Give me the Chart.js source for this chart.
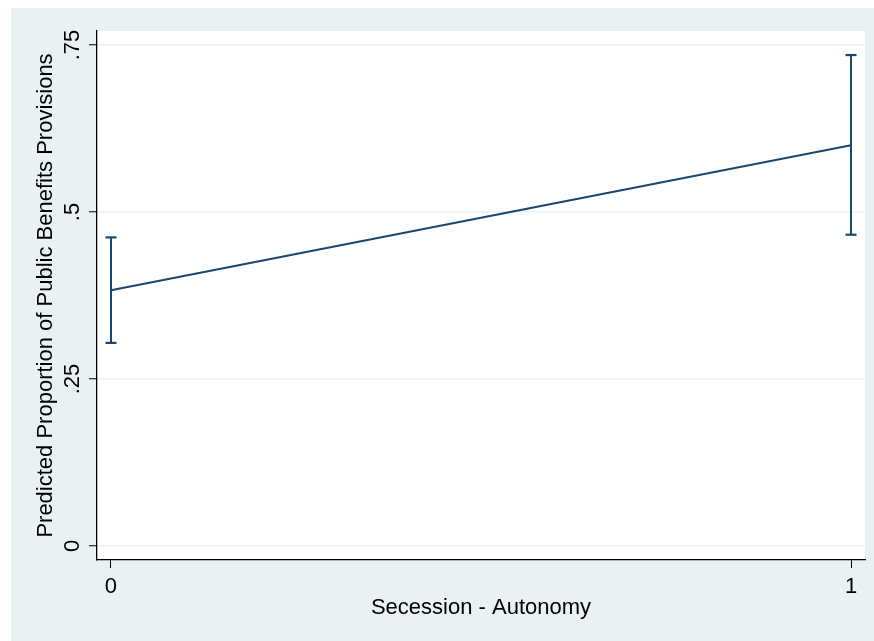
<!DOCTYPE html>
<html>
<head>
<meta charset="utf-8">
<script src="https://cdn.jsdelivr.net/npm/chart.js@4.4.1/dist/chart.umd.min.js"></script>
<style>
  html, body { margin: 0; padding: 0; background: #ffffff; }
  #wrap { width: 874px; height: 641px; }
</style>
</head>
<body>
<div id="wrap"><canvas id="c" width="874" height="641"></canvas></div>
<script>
// ---- data ----
const xValues = [0, 1];
const predicted = [0.383, 0.600];
const ciLower = [0.304, 0.466];
const ciUpper = [0.462, 0.735];
const xTickValues = [0, 1];
const xTickLabels = ['0', '1'];
const yTickValues = [0, 0.25, 0.5, 0.75];
const yTickLabels = ['0', '.25', '.5', '.75'];
const xTitle = 'Secession - Autonomy';
const yTitle = 'Predicted Proportion of Public Benefits Provisions';

const NAVY = '#1a476f';
const REGION = '#eaf1f3';
const FONT = '"Liberation Sans", Arial, Helvetica, sans-serif';

const lineData = xValues.map((x, i) => ({ x: x, y: predicted[i] }));
const errorSets = xValues.map((x, i) => ({
  type: 'line',
  data: [{ x: x, y: ciLower[i] }, { x: x, y: ciUpper[i] }],
  borderColor: NAVY,
  borderWidth: 2,
  pointStyle: 'line',
  pointRadius: 5.5,
  pointBorderWidth: 2.2,
  pointBorderColor: NAVY,
  pointBackgroundColor: NAVY,
  pointHoverRadius: 5.5,
  fill: false
}));

const bgPlugin = {
  id: 'bg',
  beforeDraw(chart) {
    const ctx = chart.ctx, a = chart.chartArea;
    ctx.save();
    ctx.fillStyle = '#ffffff';
    ctx.fillRect(0, 0, chart.width, chart.height);
    ctx.fillStyle = REGION;
    ctx.fillRect(11, 8, chart.width - 11, chart.height - 8);
    ctx.fillStyle = '#ffffff';
    ctx.fillRect(a.left, a.top, a.right - a.left, a.bottom - a.top);
    ctx.restore();
  }
};

new Chart(document.getElementById('c'), {
  type: 'line',
  data: {
    datasets: [
      {
        data: lineData,
        borderColor: NAVY,
        borderWidth: 2,
        pointRadius: 0,
        pointHoverRadius: 0,
        fill: false
      },
      ...errorSets
    ]
  },
  options: {
    responsive: false,
    animation: false,
    devicePixelRatio: 1,
    layout: { padding: { top: 31, right: 9, left: 0, bottom: 0 } },
    plugins: { legend: { display: false }, tooltip: { enabled: false } },
    scales: {
      x: {
        type: 'linear',
        min: -0.0189,
        max: 1.0189,
        afterBuildTicks(scale) { scale.ticks = xTickValues.map(v => ({ value: v })); },
        afterFit(scale) { scale.height = 81; },
        grid: { drawOnChartArea: false, drawTicks: true, tickLength: 8, tickColor: '#000', tickWidth: 1 },
        border: { display: true, color: '#000', width: 1.3 },
        ticks: {
          padding: 6,
          color: '#000',
          font: { family: FONT, size: 22 },
          maxRotation: 0,
          minRotation: 0,
          callback(v) { const i = xTickValues.indexOf(v); return i >= 0 ? xTickLabels[i] : ''; }
        },
        title: {
          display: true,
          text: xTitle,
          color: '#000',
          font: { family: FONT, size: 22 },
          padding: { top: 0, bottom: 20 }
        }
      },
      y: {
        type: 'linear',
        min: -0.021,
        max: 0.771,
        afterBuildTicks(scale) { scale.ticks = yTickValues.map(v => ({ value: v })); },
        afterFit(scale) { scale.width = 97; },
        grid: { color: REGION, lineWidth: 1.5, drawTicks: true, tickLength: 8, tickColor: '#000', tickWidth: 1 },
        border: { display: true, color: '#000', width: 1.3 },
        ticks: {
          padding: 1,
          color: '#000',
          crossAlign: 'center',
          minRotation: 90,
          maxRotation: 90,
          font: { family: FONT, size: 22 },
          callback(v) { const i = yTickValues.indexOf(v); return i >= 0 ? yTickLabels[i] : ''; }
        },
        title: {
          display: true,
          text: yTitle,
          color: '#000',
          font: { family: FONT, size: 22 },
          padding: { top: 33, bottom: 0 }
        }
      }
    }
  },
  plugins: [bgPlugin]
});
</script>
</body>
</html>
